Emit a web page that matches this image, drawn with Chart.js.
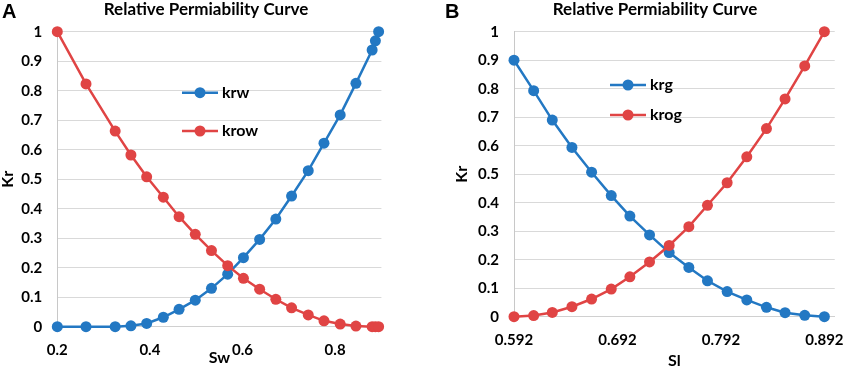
<!DOCTYPE html>
<html>
<head>
<meta charset="utf-8">
<script src="https://cdn.jsdelivr.net/npm/chart.js@4.4.1/dist/chart.umd.min.js"></script>
<style>
  body { margin: 0; background: #fff; }
  #wrap { position: relative; width: 858px; height: 369px; }
  canvas { position: absolute; top: 0; }
</style>
</head>
<body>
<div id="wrap">
  <canvas id="chartA" width="429" height="369" style="left:0"></canvas>
  <canvas id="chartB" width="429" height="369" style="left:429px"></canvas>
</div>
<script>
// panel A: water / oil
const swValues = [0.2, 0.262, 0.325, 0.359, 0.393, 0.429, 0.463, 0.498, 0.533, 0.568, 0.602,
  0.637, 0.672, 0.706, 0.742, 0.776, 0.811, 0.845, 0.880, 0.887, 0.894];
const krwValues = [0, 0, 0, 0.003, 0.011, 0.032, 0.059, 0.090, 0.130, 0.178, 0.234,
  0.296, 0.365, 0.443, 0.529, 0.622, 0.718, 0.825, 0.938, 0.969, 1.0];
const krowValues = [1.0, 0.823, 0.663, 0.582, 0.508, 0.439, 0.373, 0.313, 0.258, 0.207, 0.164,
  0.127, 0.093, 0.064, 0.040, 0.020, 0.009, 0.002, 0, 0, 0];

// panel B: gas / oil
const slValues = [0.592, 0.611, 0.629, 0.648, 0.667, 0.686, 0.704, 0.723, 0.742, 0.761, 0.779,
  0.798, 0.817, 0.836, 0.854, 0.873, 0.892];
const krgValues = [0.9, 0.793, 0.690, 0.594, 0.507, 0.425, 0.353, 0.287, 0.225, 0.173, 0.126,
  0.088, 0.059, 0.033, 0.014, 0.005, 0];
const krogValues = [0, 0.004, 0.015, 0.035, 0.062, 0.097, 0.140, 0.192, 0.250, 0.316, 0.391,
  0.470, 0.561, 0.660, 0.764, 0.880, 1.0];

const swTicks = [0.2, 0.4, 0.6, 0.8];
const slTicks = [0.592, 0.692, 0.792, 0.892];
const krTicks = [0, 0.1, 0.2, 0.3, 0.4, 0.5, 0.6, 0.7, 0.8, 0.9, 1];

const BLUE = '#2378c3';
const RED = '#e04444';
const FONT = 'Lato, "Open Sans", sans-serif';

const toPoints = (xs, ys) => xs.map((x, i) => ({ x: x, y: ys[i] }));

// panel letter, title and the in-plot legend
const panelDecor = {
  id: 'panelDecor',
  afterDraw(chart, args, o) {
    const ctx = chart.ctx;
    ctx.save();
    ctx.fillStyle = '#000';
    ctx.textBaseline = 'alphabetic';
    ctx.textAlign = 'left';
    ctx.font = 'bold 20px "Liberation Sans", Arial, sans-serif';
    ctx.fillText(o.letter, o.letterX, 18);
    ctx.textAlign = 'center';
    ctx.font = 'bold 17px ' + FONT;
    ctx.fillText(o.title, o.titleX, 15);

    chart.data.datasets.forEach((ds, i) => {
      const y = o.legendY[i];
      ctx.strokeStyle = ds.borderColor;
      ctx.lineWidth = 2.5;
      ctx.beginPath();
      ctx.moveTo(o.legendX, y);
      ctx.lineTo(o.legendX + 36, y);
      ctx.stroke();
      ctx.fillStyle = ds.backgroundColor;
      ctx.beginPath();
      ctx.arc(o.legendX + 18, y, 5.5, 0, Math.PI * 2);
      ctx.fill();
      ctx.fillStyle = '#000';
      ctx.textAlign = 'left';
      ctx.textBaseline = 'middle';
      ctx.font = 'bold 16px ' + FONT;
      ctx.fillText(ds.label, o.legendX + 40, y);
    });
    ctx.restore();
  }
};

function makeChart(id, cfg) {
  const ds = (label, ys, color, order) => ({
    label: label,
    data: toPoints(cfg.xs, ys),
    borderColor: color,
    backgroundColor: color,
    borderWidth: 2.5,
    pointRadius: 5.5,
    pointBorderWidth: 0,
    showLine: true,
    tension: 0,
    clip: false,
    order: order
  });

  return new Chart(document.getElementById(id), {
    type: 'scatter',
    data: {
      datasets: [
        ds(cfg.names[0], cfg.series[0], BLUE, 1),
        ds(cfg.names[1], cfg.series[1], RED, 0)
      ]
    },
    options: {
      responsive: false,
      animation: false,
      layout: { padding: { top: 31.7, right: cfg.padRight, bottom: 0, left: 0 } },
      plugins: {
        legend: { display: false },
        tooltip: { enabled: false },
        panelDecor: cfg.decor
      },
      scales: {
        x: {
          type: 'linear',
          min: cfg.xMin,
          max: cfg.xMax,
          afterBuildTicks: (s) => { s.ticks = cfg.xTicks.map(v => ({ value: v })); },
          afterFit: (s) => { s.height = cfg.xAxisHeight; },
          grid: { display: false, drawTicks: false },
          border: { display: true, color: '#d0d0d0', width: 1 },
          ticks: {
            padding: 14,
            color: '#000',
            font: { family: FONT, size: 15, weight: 'bold' },
            callback: (v) => String(v)
          },
          title: {
            display: true,
            text: cfg.xTitle,
            color: '#000',
            font: { family: FONT, size: 16, weight: 'bold', lineHeight: 1 },
            padding: { top: 0, bottom: cfg.xTitlePad }
          }
        },
        y: {
          min: 0,
          max: 1,
          afterBuildTicks: (s) => { s.ticks = krTicks.map(v => ({ value: v })); },
          afterFit: (s) => { s.width = cfg.yAxisWidth; },
          grid: { color: '#d9d9d9', lineWidth: 1, drawTicks: false },
          border: { display: true, color: '#c8c8c8', width: 1 },
          ticks: {
            padding: 15,
            color: '#000',
            font: { family: FONT, size: 15, weight: 'bold' },
            callback: (v) => String(v)
          },
          title: {
            display: true,
            text: 'Kr',
            color: '#000',
            font: { family: FONT, size: 16, weight: 'bold', lineHeight: 1 },
            padding: { top: cfg.yTitlePad, bottom: 0 }
          }
        }
      }
    },
    plugins: [panelDecor]
  });
}

makeChart('chartA', {
  xs: swValues,
  series: [krwValues, krowValues],
  names: ['krw', 'krow'],
  xMin: 0.2, xMax: 0.9, xTicks: swTicks, xTitle: 'Sw',
  padRight: 47.6, xAxisHeight: 42.3, yAxisWidth: 57.3,
  xTitlePad: 3, yTitlePad: 0,
  decor: { letter: 'A', letterX: 2, title: 'Relative Permiability Curve', titleX: 206,
           legendX: 182, legendY: [92.7, 131] }
});

makeChart('chartB', {
  xs: slValues,
  series: [krgValues, krogValues],
  names: ['krg', 'krog'],
  xMin: 0.592, xMax: 0.902, xTicks: slTicks, xTitle: 'Sl',
  padRight: 13.3, xAxisHeight: 52.3, yAxisWidth: 85,
  xTitlePad: 0, yTitlePad: 25,
  decor: { letter: 'B', letterX: 16, title: 'Relative Permiability Curve', titleX: 226,
           legendX: 181, legendY: [85, 115] }
});
</script>
</body>
</html>
